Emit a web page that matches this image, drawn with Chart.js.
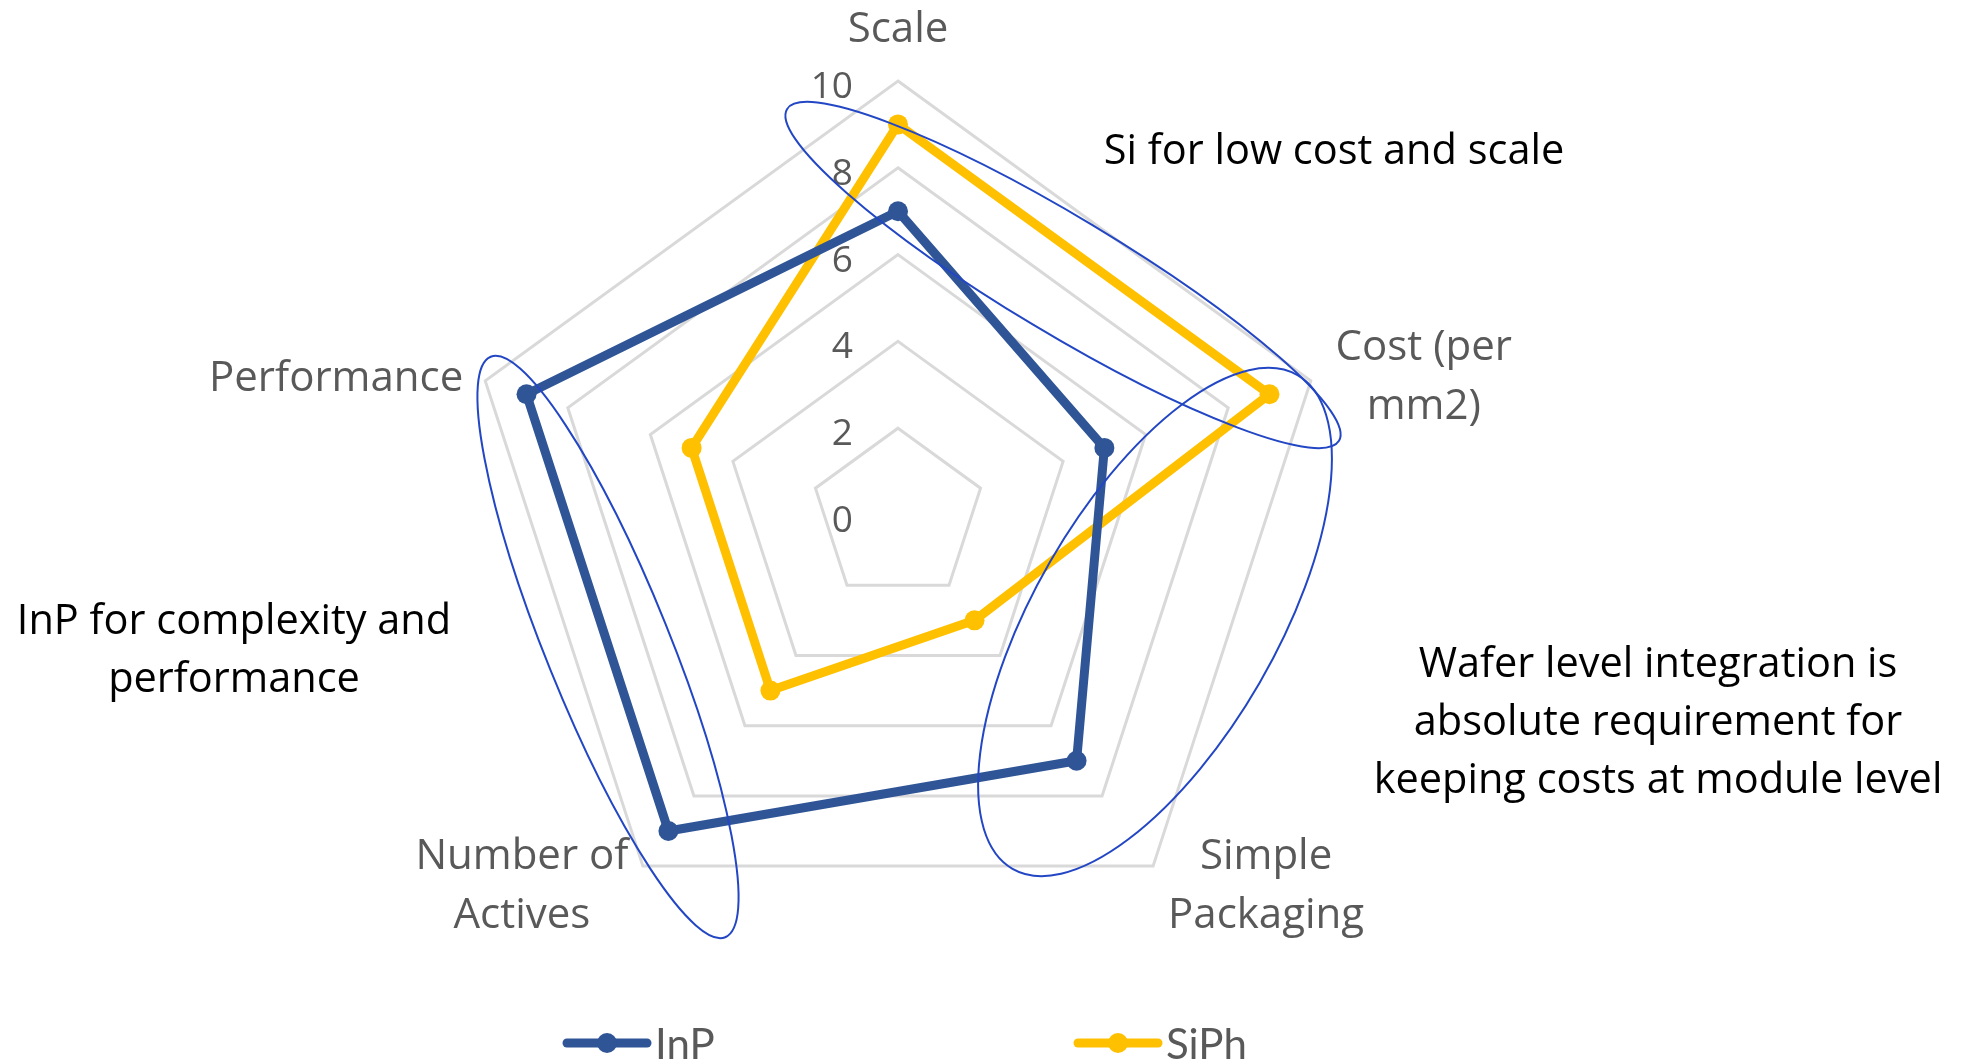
<!DOCTYPE html>
<html>
<head>
<meta charset="utf-8">
<script src="https://cdn.jsdelivr.net/npm/chart.js@4.4.1/dist/chart.umd.min.js"></script>
<style>
  html, body { margin: 0; padding: 0; background: #ffffff; }
  #wrap { width: 1970px; height: 1062px; position: relative; }
</style>
</head>
<body>
<div id="wrap"><canvas id="radar-chart"></canvas></div>
<script>
// chart data
const axisLabels = [['Scale'], ['Cost (per', 'mm2)'], ['Simple', 'Packaging'], ['Number of', 'Actives'], ['Performance']];
const seriesNames = ['InP', 'SiPh'];
const inpValues = [7, 5, 7, 9, 9];
const siphValues = [9, 9, 3, 5, 5];
const tickValues = [0, 2, 4, 6, 8, 10];
const calloutTexts = [
  ['Si for low cost and scale'],
  ['InP for complexity and', 'performance'],
  ['Wafer level integration is', 'absolute requirement for', 'keeping costs at module level']
];

const FONT = '"Open Sans", Lato, sans-serif';
const LEGEND_FONT = 'Lato, "Open Sans", sans-serif';
const GREY_TEXT = '#595959';
const RING_BLUE = '#2347c4';

// label placement, offsets from each axis end (px at radius 434)
const labelPlacement = [
  { dx: 0, dy: -39, align: 'center' },
  { dx: 113, dy: -21, align: 'center' },
  { dx: 113, dy: 3, align: 'center' },
  { dx: -121, dy: 3, align: 'center' },
  { dx: -22, dy: 10, align: 'right' }
];
const labelLineGap = 59;

// callout text and ellipse placement, relative to the chart centre
const calloutPlacement = [
  { x: 436, y: -351, gap: 0 },
  { x: -664, y: 119, gap: 58 },
  { x: 760, y: 162, gap: 58 }
];
const ringPlacement = [
  { x: 165, y: -240, a: 322, b: 58, rot: 31 },
  { x: 257, y: 107, a: 285, b: 121, rot: -60 },
  { x: -290, y: 132, a: 313, b: 62, rot: 68 }
];

const overlayPlugin = {
  id: 'overlay',
  afterDatasetsDraw(chart) {
    const ctx = chart.ctx;
    const scale = chart.scales.r;
    const cx = scale.xCenter, cy = scale.yCenter;
    const k = scale.drawingArea / 434;

    ctx.save();

    // tick labels, left of the top axis
    ctx.fillStyle = GREY_TEXT;
    ctx.font = '37px ' + FONT;
    ctx.textAlign = 'right';
    ctx.textBaseline = 'alphabetic';
    tickValues.forEach(function(v) {
      const p = scale.getPointPositionForValue(0, v);
      ctx.fillText(String(v), p.x - 45 * k, p.y + 17 * k);
    });

    // axis labels
    ctx.font = '42px ' + FONT;
    axisLabels.forEach(function(lines, i) {
      const p = scale.getPointPosition(i, scale.drawingArea);
      const place = labelPlacement[i];
      ctx.textAlign = place.align;
      lines.forEach(function(line, j) {
        ctx.fillText(line, p.x + place.dx * k, p.y + (place.dy + j * labelLineGap) * k);
      });
    });

    // hand drawn rings
    ctx.strokeStyle = RING_BLUE;
    ctx.lineWidth = 2;
    ringPlacement.forEach(function(r) {
      ctx.beginPath();
      ctx.ellipse(cx + r.x * k, cy + r.y * k, r.a * k, r.b * k, r.rot * Math.PI / 180, 0, Math.PI * 2);
      ctx.stroke();
    });

    // callouts
    ctx.fillStyle = '#000000';
    ctx.font = '41.5px ' + FONT;
    ctx.textAlign = 'center';
    calloutTexts.forEach(function(lines, i) {
      const place = calloutPlacement[i];
      lines.forEach(function(line, j) {
        ctx.fillText(line, cx + place.x * k, cy + (place.y + j * place.gap) * k);
      });
    });

    // legend: line with a dot, then the name
    const legendY = cy + 528 * k;
    const legendStarts = [-335, 176];
    ctx.font = '42px ' + LEGEND_FONT;
    ctx.textAlign = 'left';
    ctx.textBaseline = 'middle';
    chart.data.datasets.forEach(function(ds, i) {
      const x0 = cx + legendStarts[i] * k;
      ctx.strokeStyle = ds.borderColor;
      ctx.fillStyle = ds.borderColor;
      ctx.lineWidth = 9;
      ctx.lineCap = 'round';
      ctx.beginPath();
      ctx.moveTo(x0 + 4, legendY);
      ctx.lineTo(x0 + 84, legendY);
      ctx.stroke();
      ctx.beginPath();
      ctx.arc(x0 + 44, legendY, 10, 0, Math.PI * 2);
      ctx.fill();
      ctx.fillStyle = GREY_TEXT;
      ctx.fillText(ds.label, x0 + 92, legendY + 2);
    });

    ctx.restore();
  }
};

const radarCanvas = document.getElementById('radar-chart');
new Chart(radarCanvas, {
  type: 'radar',
  data: {
    labels: axisLabels,
    datasets: [
      {
        label: seriesNames[0],
        data: inpValues,
        borderColor: '#2F5597',
        backgroundColor: '#2F5597',
        borderWidth: 9,
        pointRadius: 10,
        pointBorderWidth: 0,
        borderJoinStyle: 'round',
        fill: false,
        tension: 0
      },
      {
        label: seriesNames[1],
        data: siphValues,
        borderColor: '#FFC000',
        backgroundColor: '#FFC000',
        borderWidth: 9,
        pointRadius: 10,
        pointBorderWidth: 0,
        borderJoinStyle: 'round',
        fill: false,
        tension: 0
      }
    ]
  },
  options: {
    responsive: true,
    maintainAspectRatio: false,
    animation: false,
    layout: {
      padding: { top: 81, bottom: 113, left: 464, right: 638 }
    },
    plugins: {
      legend: { display: false },
      tooltip: { enabled: false }
    },
    scales: {
      r: {
        min: 0,
        max: 10,
        ticks: { stepSize: 2, display: false },
        grid: { color: '#d9d9d9', lineWidth: 3 },
        angleLines: { display: false },
        pointLabels: { display: false }
      }
    }
  },
  plugins: [overlayPlugin]
});
</script>
</body>
</html>
